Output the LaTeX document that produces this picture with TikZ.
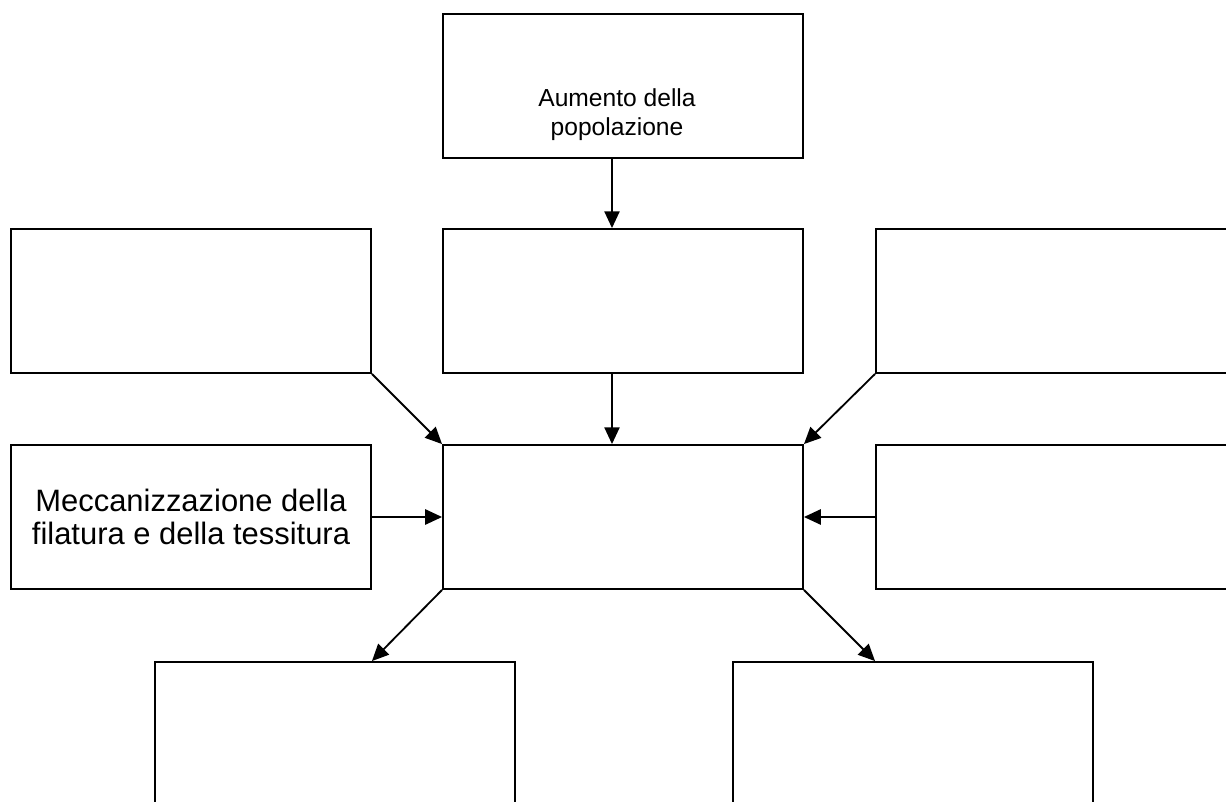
\documentclass[tikz,border=0pt]{standalone}
\usepackage{fontspec}
\setmainfont{Liberation Sans}
\usetikzlibrary{arrows.meta}
\tikzset{
    box/.style = {draw, line width=1.3pt, minimum width=9cm, minimum height=3.6cm, inner sep=0pt},
    testo/.style = {font=\fontsize{17.5}{21}\selectfont, align=center},
    testogrande/.style = {font=\fontsize{22}{23}\selectfont, align=center},
    freccia/.style = {line width=1.3pt, -{Triangle[length=0.42cm,width=0.38cm]}}
}
\begin{document}
\begin{tikzpicture}[x=0.025cm,y=-0.025cm]
        \clip (0,0) rectangle (1226,802);
        \node[box] (popolazione) at (623,86) {};
        \node[testo] (popolazioneTesto) at ([xshift=-0.15cm,yshift=-0.72cm]popolazione.center) {Aumento della\\popolazione};
        \node[box] (causaA) at (191,301) {};
        \node[box] (causaB) at (623,301) {};
        \node[box] (causaC) at (1056,301) {};
        \node[box, testogrande] (meccanizzazione) at (191,517) {Meccanizzazione della\\filatura e della tessitura};
        \node[box] (centro) at (623,517) {};
        \node[box] (causaD) at (1056,517) {};
        \node[box] (effettoA) at (335,734) {};
        \node[box] (effettoB) at (913,734) {};
        \draw[freccia] ([xshift=-0.275cm]popolazione.south) -- ([xshift=-0.275cm]causaB.north);
        \draw[freccia] ([xshift=-0.275cm]causaB.south) -- ([xshift=-0.275cm]centro.north);
        \draw[freccia] (causaA.south east) -- (centro.north west);
        \draw[freccia] (causaC.south west) -- (centro.north east);
        \draw[freccia] (meccanizzazione.east) -- (centro.west);
        \draw[freccia] (causaD.west) -- (centro.east);
        \draw[freccia] (centro.south west) -- (meccanizzazione.east |- effettoA.north);
        \draw[freccia] (centro.south east) -- (causaD.west |- effettoB.north);
    \end{tikzpicture}
\end{document}
